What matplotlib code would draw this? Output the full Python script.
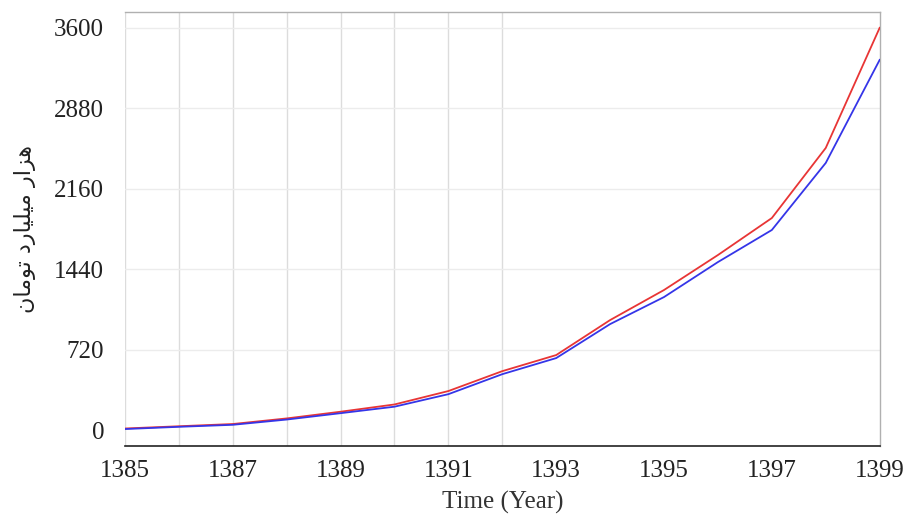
import matplotlib
matplotlib.use("Agg")
import matplotlib.pyplot as plt

years = [1385, 1386, 1387, 1388, 1389, 1390, 1391, 1392, 1393, 1394, 1395, 1396, 1397, 1398, 1399]
red_values = [15, 35, 55, 105, 165, 230, 350, 528, 672, 985, 1254, 1567, 1898, 2525, 3600]
blue_values = [10, 30, 48, 95, 152, 210, 322, 501, 645, 949, 1191, 1504, 1791, 2391, 3313]
x_ticks = [1385, 1387, 1389, 1391, 1393, 1395, 1397, 1399]
y_ticks = [0, 720, 1440, 2160, 2880, 3600]
vgrid_years = [1385, 1386, 1387, 1388, 1389, 1390, 1391, 1392]

# "هزار میلیارد تومان" written with presentation forms in visual order
ylabel_logical = "هزار میلیارد تومان"
ylabel_visual = "\uFEE5\uFE8E\uFEE3\uFEEE\uFE97 \uFEA9\uFEAD\uFE8E\uFEF4\uFEE0\uFEF4\uFEE3 \uFEAD\uFE8D\uFEB0\uFEEB"

fig = plt.figure(figsize=(9.05, 5.14), dpi=100)
ax = fig.add_axes([0.138, 0.132, 0.834, 0.845])

for xv in vgrid_years:
    ax.axvline(xv, color="#dcdcdc", lw=1.0, zorder=0)
for yv in y_ticks[1:]:
    ax.axhline(yv, color="#ececec", lw=1.0, zorder=0)

ax.plot(years, red_values, color="#e83535", lw=1.3, zorder=3)
ax.plot(years, blue_values, color="#3535e8", lw=1.3, zorder=4)

ax.set_xlim(1385, 1399)
ax.set_ylim(-143, 3743)
ax.set_xticks(x_ticks)
ax.set_yticks(y_ticks)
ax.tick_params(length=0, labelsize=18)
ax.tick_params(axis="y", pad=15)
ax.tick_params(axis="x", pad=10)
for lab in ax.get_xticklabels() + ax.get_yticklabels():
    lab.set_fontfamily("Liberation Serif")
    lab.set_color("#222222")

for side in ["top", "right", "left"]:
    ax.spines[side].set_color("#b0b0b0")
    ax.spines[side].set_linewidth(1.0)
ax.spines["left"].set_visible(False)
ax.spines["bottom"].set_color("#222222")
ax.spines["bottom"].set_linewidth(1.2)

ax.set_xlabel("Time (Year)", fontsize=18, fontfamily="Liberation Serif", color="#333333")
ax.xaxis.set_label_coords(0.5, -0.102)
ax.set_ylabel(ylabel_visual, fontsize=16, fontfamily=["DejaVu Sans"], color="#222222")
ax.yaxis.set_label_coords(-0.118, 0.5)

fig.savefig("out.png", dpi=100)
